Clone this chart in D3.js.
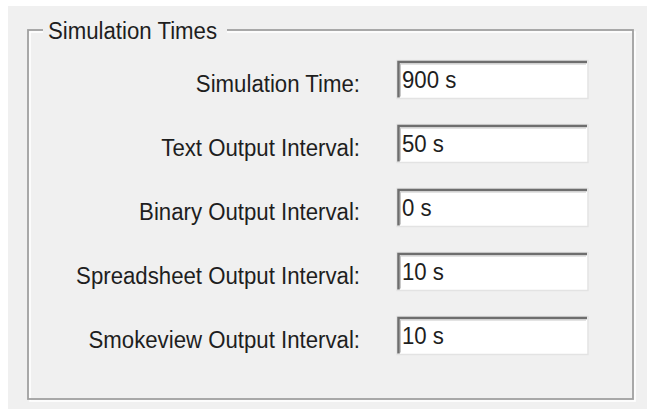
<!DOCTYPE html>
<html><head><meta charset="utf-8">
<script src="https://cdn.jsdelivr.net/npm/d3@7"></script>
<style>
html,body{margin:0;padding:0;background:#f0f0f0;}
svg{display:block;}
text{font-family:"Liberation Sans",Arial,sans-serif;}
</style></head>
<body>
<svg id="c" width="647" height="409"></svg>
<script>
const groupTitle = "Simulation Times";
const fieldLabels = ["Simulation Time:", "Text Output Interval:", "Binary Output Interval:", "Spreadsheet Output Interval:", "Smokeview Output Interval:"];
const fieldValues = [900, 50, 0, 10, 10];
const fieldUnit = "s";

const W = 647, H = 409;
const svg = d3.select("#c");
const FS = 23.5, SX = 0.945, TXT = "#1e1e1e";

// background with white margins top/left
svg.append("rect").attr("width", W).attr("height", H).attr("fill", "#ffffff");
svg.append("rect").attr("x", 8).attr("y", 6).attr("width", W - 8).attr("height", H - 6).attr("fill", "#f0f0f0");

// group box (etched)
const gx0 = 28, gy0 = 30, gx1 = 633, gy1 = 399;
svg.append("rect").attr("x", gx0 + 2).attr("y", gy0 + 2).attr("width", gx1 - gx0).attr("height", gy1 - gy0)
  .attr("fill", "none").attr("stroke", "#ffffff").attr("stroke-width", 1.6);
svg.append("rect").attr("x", gx0).attr("y", gy0).attr("width", gx1 - gx0).attr("height", gy1 - gy0)
  .attr("fill", "none").attr("stroke", "#a0a0a0").attr("stroke-width", 1.8);

// title with gap
svg.append("rect").attr("x", 43).attr("y", 20).attr("width", 184).attr("height", 20).attr("fill", "#f0f0f0");
svg.append("text").attr("transform", `translate(48,39) scale(${SX},1)`)
  .attr("font-size", FS).attr("fill", TXT).text(groupTitle);

// rows
const y = d3.scalePoint().domain(fieldLabels).range([79.5, 335.5]);
const boxX = 397, boxW = 191, boxH = 38;

const rows = svg.selectAll("g.row").data(fieldLabels.map((l, i) => ({label: l, value: fieldValues[i]})))
  .join("g").attr("class", "row").attr("transform", d => `translate(0,${y(d.label)})`);

rows.append("text").attr("transform", `translate(360,12.5) scale(${SX},1)`)
  .attr("text-anchor", "end").attr("font-size", FS).attr("fill", TXT).text(d => d.label);

// text box: white fill, light outer edge, dark sunken top/left
rows.append("rect").attr("x", boxX).attr("y", -boxH / 2).attr("width", boxW).attr("height", boxH)
  .attr("fill", "#ffffff").attr("stroke", "#e3e3e3").attr("stroke-width", 1.5);
rows.append("path")
  .attr("d", `M${boxX + 1.5},${boxH / 2 - 1} V${-boxH / 2 + 1.5} H${boxX + boxW - 1}`)
  .attr("fill", "none").attr("stroke", "#6e6e6e").attr("stroke-width", 2.5);
rows.append("path")
  .attr("d", `M${boxX + 3.5},${boxH / 2 - 2} V${-boxH / 2 + 3.5} H${boxX + boxW - 2}`)
  .attr("fill", "none").attr("stroke", "#c8c8c8").attr("stroke-width", 1);

rows.append("text").attr("transform", `translate(402,8) scale(${SX},1)`)
  .attr("font-size", FS).attr("fill", TXT).text(d => `${d.value} ${fieldUnit}`);
</script>
</body></html>
